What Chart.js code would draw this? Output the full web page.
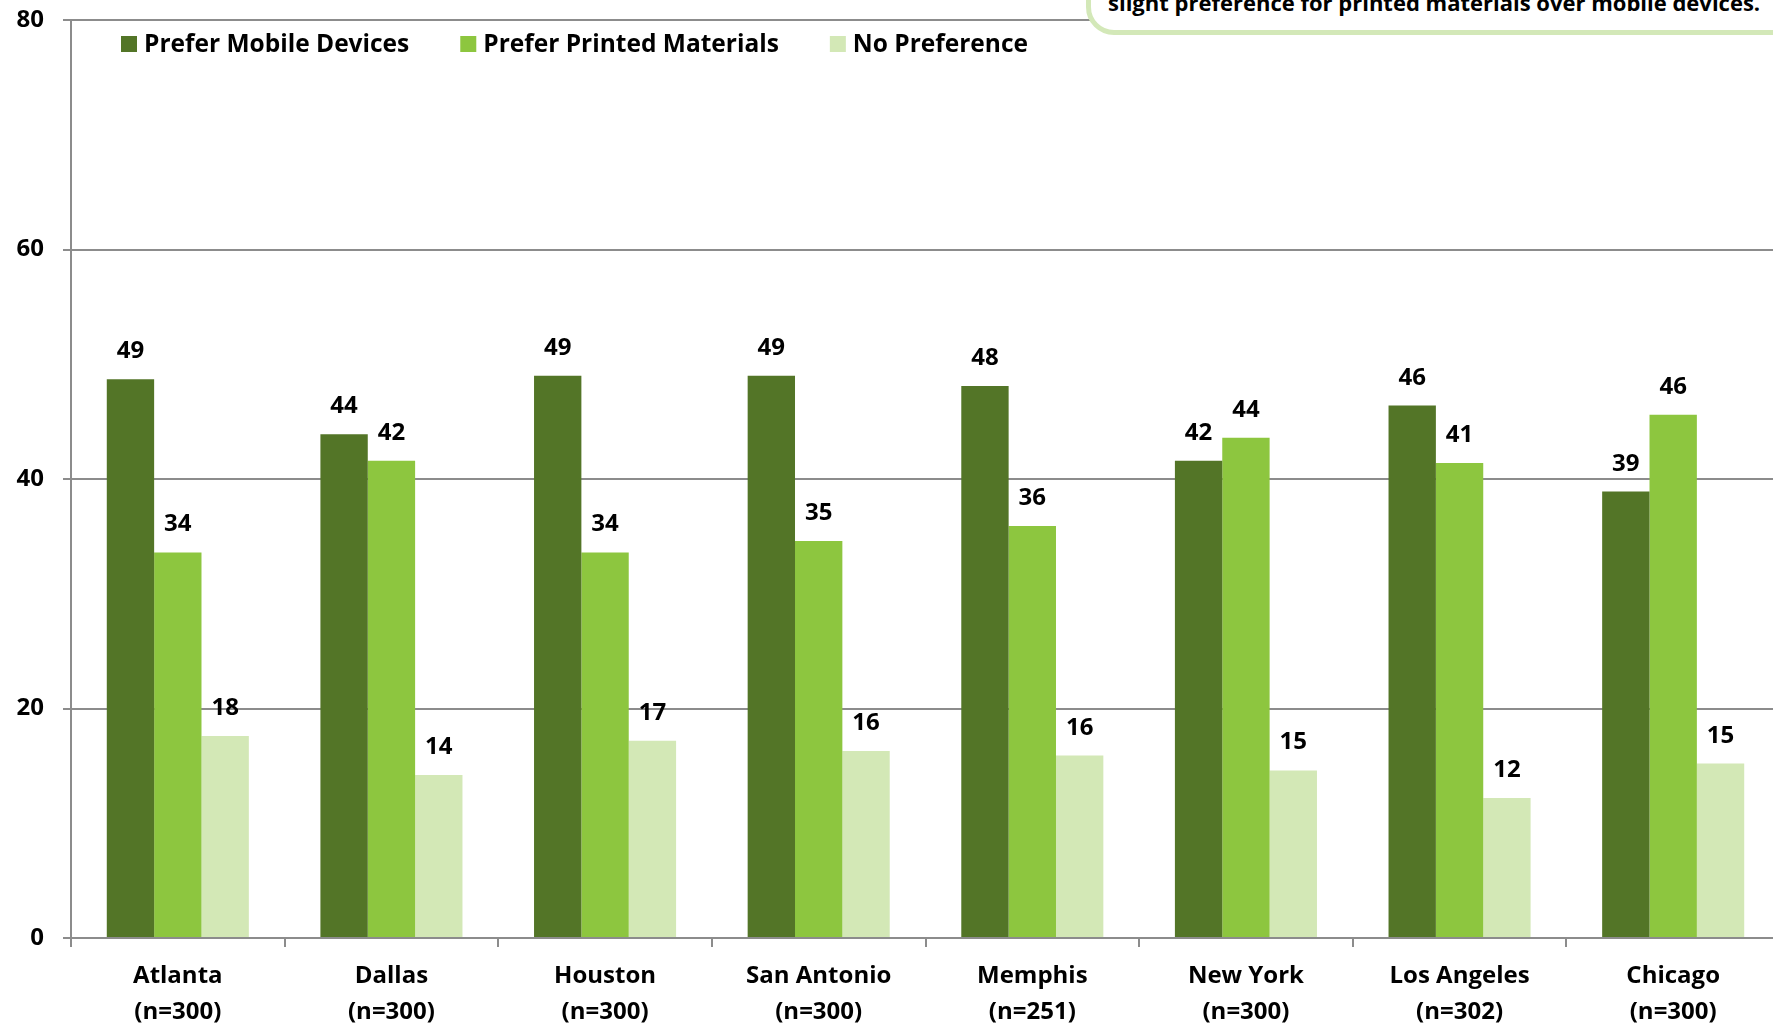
<!DOCTYPE html>
<html>
<head>
<meta charset="utf-8">
<script src="https://cdn.jsdelivr.net/npm/chart.js@4.4.1/dist/chart.umd.min.js"></script>
<style>
html,body{margin:0;padding:0;background:#fff;width:1773px;height:1027px;overflow:hidden;}
#wrap{position:absolute;left:0;top:0;width:1780px;height:1027px;}
#c{display:block;}
#callout{position:absolute;left:1086px;top:-100px;width:800px;height:135px;box-sizing:border-box;border:5px solid #d3e8b8;border-radius:28px;background:#fff;}
#callText{position:absolute;left:1108px;top:-12px;font-family:"Open Sans",sans-serif;font-weight:700;font-size:22px;line-height:28px;color:#000;white-space:nowrap;}
</style>
</head>
<body>
<div id="wrap"><canvas id="c" width="1780" height="1027"></canvas></div>
<div id="callout"></div>
<div id="callText">slight preference for printed materials over mobile devices.</div>
<script>
// ---- data ----
const cities = ["Atlanta","Dallas","Houston","San Antonio","Memphis","New York","Los Angeles","Chicago"];
const sampleSizes = ["(n=300)","(n=300)","(n=300)","(n=300)","(n=251)","(n=300)","(n=302)","(n=300)"];
const preferMobile  = [48.7, 43.9, 49.0, 49.0, 48.1, 41.6, 46.4, 38.9];
const preferPrinted = [33.6, 41.6, 33.6, 34.6, 35.9, 43.6, 41.4, 45.6];
const noPreference  = [17.6, 14.2, 17.2, 16.3, 15.9, 14.6, 12.2, 15.2];
const seriesNames = ["Prefer Mobile Devices","Prefer Printed Materials","No Preference"];
const yTicks = [0, 20, 40, 60, 80];

const FONT = '"Open Sans", sans-serif';
const colors = ["#537527", "#8dc63f", "#d3e8b6"];

const labels = cities.map((c, i) => [c, sampleSizes[i]]);

const dataLabelPlugin = {
  id: 'dataLabels',
  afterDatasetsDraw(chart) {
    const ctx = chart.ctx;
    ctx.save();
    ctx.font = 'bold 24px ' + FONT;
    ctx.fillStyle = '#000';
    ctx.textAlign = 'center';
    ctx.textBaseline = 'alphabetic';
    chart.data.datasets.forEach((ds, di) => {
      const meta = chart.getDatasetMeta(di);
      meta.data.forEach((el, i) => {
        ctx.fillText(String(Math.round(ds.data[i])), el.x, el.y - 21);
      });
    });
    ctx.restore();
  }
};

const legendPlugin = {
  id: 'innerLegend',
  afterDraw(chart) {
    const ctx = chart.ctx;
    ctx.save();
    ctx.font = 'bold 24.5px ' + FONT;
    ctx.textBaseline = 'middle';
    ctx.textAlign = 'left';
    let x = 121;
    const yc = 44;
    chart.data.datasets.forEach(ds => {
      ctx.fillStyle = ds.backgroundColor;
      ctx.fillRect(x, yc - 8, 16, 16);
      ctx.fillStyle = '#000';
      ctx.fillText(ds.label, x + 23, yc + 1);
      x += 23 + ctx.measureText(ds.label).width + 51;
    });
    ctx.restore();
  }
};

new Chart(document.getElementById('c'), {
  type: 'bar',
  data: {
    labels: labels,
    datasets: [
      { label: seriesNames[0], data: preferMobile, backgroundColor: colors[0] },
      { label: seriesNames[1], data: preferPrinted, backgroundColor: colors[1] },
      { label: seriesNames[2], data: noPreference, backgroundColor: colors[2] }
    ]
  },
  options: {
    responsive: false,
    animation: false,
    devicePixelRatio: 1,
    layout: { padding: { top: 20, right: 0, left: 0, bottom: 0 } },
    datasets: { bar: { categoryPercentage: 0.665, barPercentage: 1.0, borderWidth: 0 } },
    plugins: { legend: { display: false }, tooltip: { enabled: false }, title: { display: false } },
    scales: {
      x: {
        grid: { display: true, offset: true, drawOnChartArea: false, drawTicks: true, tickLength: 9, color: '#8c8c8c', lineWidth: 2 },
        border: { display: true, color: '#8c8c8c', width: 2 },
        ticks: { color: '#000', font: { family: FONT, size: 24, weight: 'bold', lineHeight: 1.5 }, padding: 11, maxRotation: 0, autoSkip: false },
        afterFit(s) { s.height = 89; s.paddingLeft = 0; s.paddingRight = 0; }
      },
      y: {
        min: 0, max: 80,
        afterBuildTicks(s) { s.ticks = yTicks.map(v => ({ value: v })); },
        grid: { color: '#8c8c8c', lineWidth: 2, tickLength: 8, drawTicks: true },
        border: { display: true, color: '#8c8c8c', width: 2 },
        ticks: { color: '#000', font: { family: FONT, size: 24, weight: 'bold' }, padding: 19 },
        afterFit(s) { s.width = 71; s.paddingTop = 0; s.paddingBottom = 0; }
      }
    }
  },
  plugins: [dataLabelPlugin, legendPlugin]
});
</script>
</body>
</html>
